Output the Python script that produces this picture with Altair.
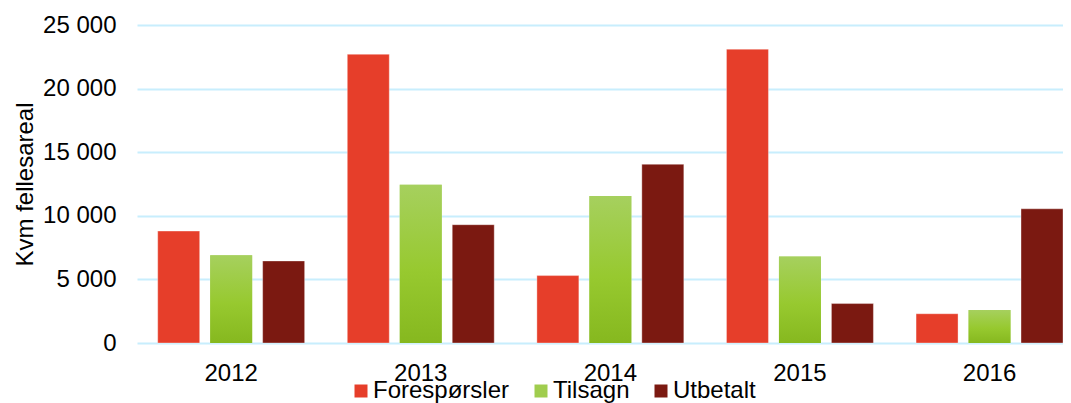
import altair as alt
import pandas as pd

years = ["2012", "2013", "2014", "2015", "2016"]
series = ["Forespørsler", "Tilsagn", "Utbetalt"]
foresporsler = [8800, 22700, 5300, 23100, 2300]
tilsagn = [6900, 12450, 11550, 6800, 2600]
utbetalt = [6450, 9300, 14050, 3100, 10550]
colors = ["#e63e2a", "#a0cd4e", "#7b1911"]
y_ticks = [0, 5000, 10000, 15000, 20000, 25000]

rows = []
for i, yr in enumerate(years):
    for s, vals in zip(series, [foresporsler, tilsagn, utbetalt]):
        rows.append({"year": yr, "series": s, "value": vals[i]})
df = pd.DataFrame(rows)

FONT = "Liberation Sans"

x_enc = alt.X(
    "year:N",
    title=None,
    scale=alt.Scale(domain=years, paddingInner=0.225, paddingOuter=0.0546, align=1),
    axis=alt.Axis(labelAngle=0, labelFontSize=24, labelFont=FONT, labelColor="black",
                  domain=False, ticks=False, tickSize=0, labelPadding=18, grid=False),
)
xo_enc = alt.XOffset("series:N", scale=alt.Scale(domain=series, paddingInner=0.2, paddingOuter=0))
y_enc = alt.Y(
    "value:Q",
    scale=alt.Scale(domain=[0, 25000], nice=False),
    axis=alt.Axis(
        values=y_ticks,
        labelExpr="datum.value == 0 ? '0' : format(datum.value/1000, 'd') + ' 000'",
        title="Kvm fellesareal",
        titleFont=FONT, titleFontSize=24, titleFontWeight="normal", titleColor="black",
        titlePadding=5,
        labelFont=FONT, labelFontSize=24, labelColor="black",
        labelPadding=21, ticks=False, tickSize=0, domain=False,
        grid=True, gridColor="#c8eefd", gridWidth=2,
    ),
)

base = alt.Chart(df)

bars = base.mark_bar(stroke="white", strokeOpacity=0.35, strokeWidth=1).encode(
    x=x_enc,
    xOffset=xo_enc,
    y=y_enc,
    color=alt.Color(
        "series:N",
        scale=alt.Scale(domain=series, range=colors),
        legend=alt.Legend(
            title=None, orient="none", direction="horizontal",
            legendX=212, legendY=354, padding=0,
            symbolType="square", symbolSize=169, symbolStrokeWidth=0,
            labelFont=FONT, labelFontSize=24, labelColor="black",
            labelOffset=0, columnPadding=19,
        ),
    ),
)

green = base.transform_filter(alt.datum.series == "Tilsagn").mark_bar(
    fill=alt.Gradient(
        gradient="linear",
        stops=[
            alt.GradientStop(color="#a6d05e", offset=0),
            alt.GradientStop(color="#97c92f", offset=0.55),
            alt.GradientStop(color="#86b81f", offset=1),
        ],
        x1=0, y1=0, x2=0, y2=1,
    )
).encode(x=x_enc, xOffset=xo_enc, y=y_enc)

chart = alt.layer(bars, green).properties(
    width=926, height=318,
    autosize=alt.AutoSizeParams(type="none"),
    padding={"left": 129, "top": 17, "right": 0, "bottom": 60},
).configure_view(stroke=None)

chart.save("out.html", embed_options={"renderer": "svg", "actions": False})
